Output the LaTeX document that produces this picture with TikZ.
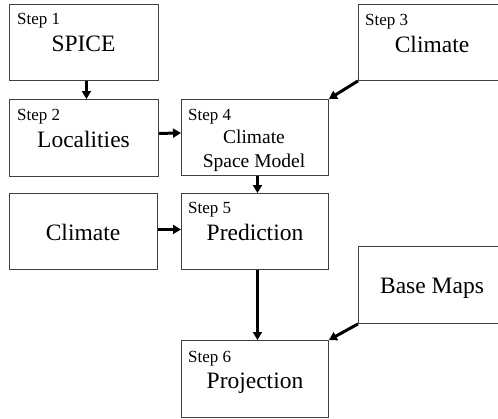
\documentclass[tikz,border=0pt]{standalone}
\usepackage{fontspec}
\setmainfont{Liberation Serif}
\usetikzlibrary{arrows.meta}
\begin{document}
\begin{tikzpicture}[x=1pt,y=-1pt,
  box/.style={draw=black!75, line width=0.9pt, rectangle, inner sep=0pt, anchor=north west},
  steplbl/.style={font=\fontsize{17}{17}\selectfont, anchor=base west, inner sep=0pt},
  maintxt/.style={font=\fontsize{23.5}{23.5}\selectfont, anchor=base, inner sep=0pt},
  midtxt/.style={font=\fontsize{19.5}{19.5}\selectfont, anchor=base, inner sep=0pt},
  flow/.style={line width=3pt, -{Triangle[length=8pt,width=9pt]}}]
\useasboundingbox (0,0) rectangle (498,418);
\clip (0,0) rectangle (498,418);

% boxes
\node[box, minimum width=149pt, minimum height=76pt] (s1) at (9,4) {};
\node[box, minimum width=149pt, minimum height=77pt] (s2) at (9,99) {};
\node[box, minimum width=150pt, minimum height=76pt] (s3) at (358,4) {};
\node[box, minimum width=147pt, minimum height=76pt] (s4) at (181,99) {};
\node[box, minimum width=148pt, minimum height=76pt] (c5) at (9,193) {};
\node[box, minimum width=147pt, minimum height=76pt] (s5) at (181,193) {};
\node[box, minimum width=150pt, minimum height=77pt] (bm) at (358,246) {};
\node[box, minimum width=147pt, minimum height=77pt] (s6) at (181,340) {};

% texts
\node[steplbl] (s1l) at (17,24) {Step 1};
\node[maintxt] (s1t) at (83.5,51) {SPICE};
\node[steplbl] (s2l) at (17,120) {Step 2};
\node[maintxt] (s2t) at (83.5,147) {Localities};
\node[steplbl] (s3l) at (365,25) {Step 3};
\node[maintxt] (s3t) at (432,52) {Climate};
\node[steplbl] (s4l) at (188,120) {Step 4};
\node[midtxt] (s4t) at (254,143) {Climate};
\node[midtxt] (s4u) at (254,167) {Space Model};
\node[maintxt] (c5t) at (83,240) {Climate};
\node[steplbl] (s5l) at (188,213) {Step 5};
\node[maintxt] (s5t) at (255,240) {Prediction};
\node[maintxt] (bmt) at (432,293) {Base Maps};
\node[steplbl] (s6l) at (188,362) {Step 6};
\node[maintxt] (s6t) at (255,388) {Projection};

% connectors
\draw[flow] ([xshift=2.5pt]s1.south) -- ([xshift=2.5pt]s2.north);
\draw[flow] ([yshift=4.5pt]s2.east) -- ([yshift=4.5pt]s4.west);
\draw[flow] (s3.south west) -- (s4.north east);
\draw[flow] ([xshift=2.5pt]s4.south) -- ([xshift=2.5pt]s5.north);
\draw[flow] ([yshift=2pt]c5.east) -- ([yshift=2pt]s5.west);
\draw[flow] ([xshift=2.5pt]s5.south) -- ([xshift=2.5pt]s6.north);
\draw[flow] (bm.south west) -- (s6.north east);
\end{tikzpicture}
\end{document}
